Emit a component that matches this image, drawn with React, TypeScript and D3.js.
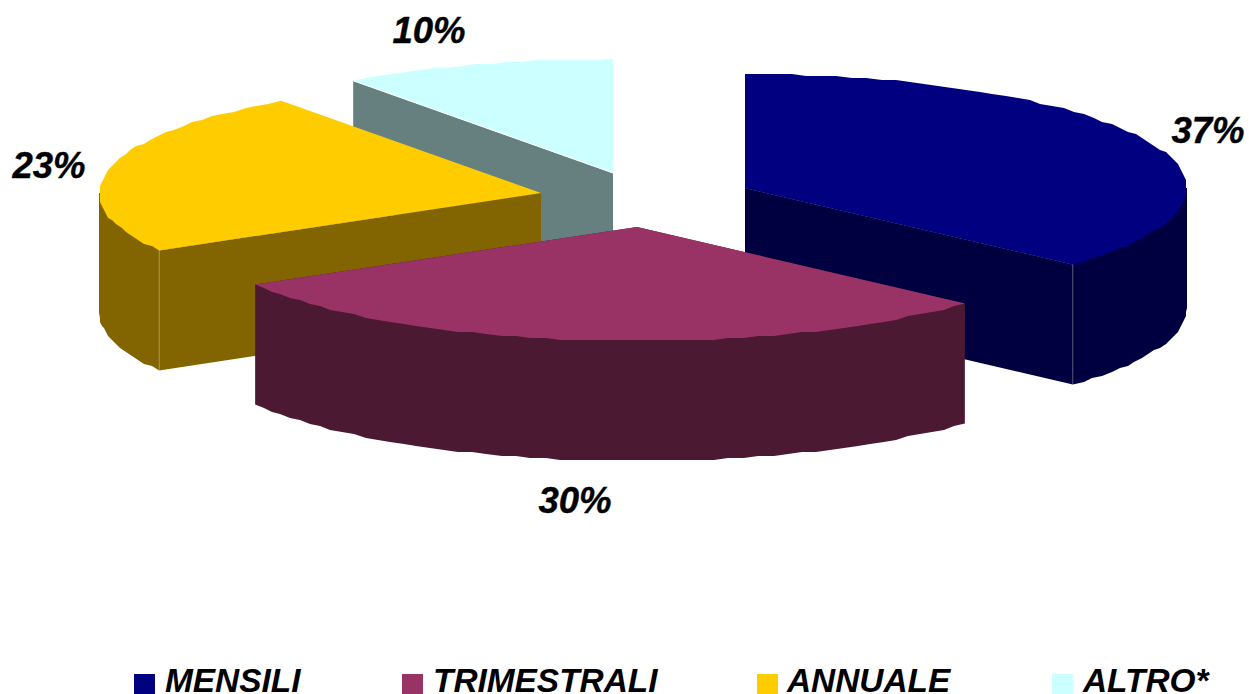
import React from "react";
import * as d3 from "d3";

const categories = ["MENSILI", "TRIMESTRALI", "ANNUALE", "ALTRO*"];
const shares = [36.7, 29.9, 23.4, 10];
const tickLabels = ["37%", "30%", "23%", "10%"];
const topColors = ["#000080", "#993366", "#ffcc00", "#ccffff"];
const sideColors = ["#000040", "#4c1933", "#826500", "#668080"];

const W = 1249, H = 694;
const RX = 442, RY = 114, DEPTH = 120;
const apexes: [number, number][] = [[745, 188], [637, 227], [541, 193], [613, 173]];
const labelPos: [number, number][] = [[1208, 143], [575, 513], [49, 178], [429, 43]];
const legendX = [134, 402, 757, 1052];
const legendTextX = [165, 433, 787, 1083];
const drawOrder = [3, 2, 0, 1];

const pieGen = d3.pie<number>().sort(null).value((d) => d);
const arcs = pieGen(shares);
const TAU = Math.PI * 2;

const snap = (v: number) => Math.round(v / 2) * 2;

function rimPoints(a0: number, a1: number, apex: [number, number], dy = 0): [number, number][] {
  const n = Math.max(2, Math.round((a1 - a0) / (TAU / 180)));
  const t = d3.scaleLinear().domain([0, n]).range([a0, a1]);
  return d3.range(n + 1).map((i) => {
    const a = t(i);
    const x = apex[0] + RX * Math.sin(a);
    const y = apex[1] - RY * Math.cos(a);
    const edge = i === 0 || i === n;
    return [edge ? x : snap(x), (edge ? y : snap(y)) + dy] as [number, number];
  });
}

const line = d3.line<[number, number]>();
const closed = (pts: [number, number][]) => (line(pts) ?? "") + "Z";

function Slice({ idx }: { idx: number }) {
  const { startAngle: s, endAngle: e } = arcs[idx];
  const apex = apexes[idx];
  const top = closed([apex, ...rimPoints(s, e, apex)]);
  const rim = (a: number): [number, number] => [apex[0] + RX * Math.sin(a), apex[1] - RY * Math.cos(a)];
  const radial = (a: number) => {
    const p = rim(a);
    return closed([apex, p, [p[0], p[1] + DEPTH], [apex[0], apex[1] + DEPTH]]);
  };
  const wallA = Math.max(s, Math.PI / 2);
  const wallB = Math.min(e, (3 * Math.PI) / 2);
  let wall: string | null = null;
  if (wallB > wallA) {
    // The wall runs under the top face, so the two never leave a gap along the rim.
    wall = closed([apex, rim(wallA), ...rimPoints(wallA, wallB, apex, DEPTH), rim(wallB)]);
  }
  const showStart = Math.sin(s) < -1e-6;
  const showEnd = Math.sin(e) > 1e-6;
  const side = sideColors[idx];
  const seamAngle = showEnd ? e : showStart ? s : null;
  const seam = seamAngle === null ? null : rim(seamAngle);
  return (
    <g>
      {showStart && <path d={radial(s)} fill={side} />}
      {showEnd && <path d={radial(e)} fill={side} />}
      {wall && <path d={wall} fill={side} />}
      {seam && wall && (
        <line x1={seam[0]} y1={seam[1]} x2={seam[0]} y2={seam[1] + DEPTH} stroke="#fff" strokeOpacity={0.25} strokeWidth={1} />
      )}
      <path d={top} fill={topColors[idx]} />
    </g>
  );
}

export default function App() {
  const cyan = apexes[3];
  const cs = arcs[3].startAngle;
  return (
    <svg
      width={W}
      height={H}
      viewBox={`0 0 ${W} ${H}`}
      style={{ position: "absolute", left: 0, top: 0, display: "block", background: "#fff" }}
      fontFamily="'Liberation Sans', Arial, sans-serif"
      fontWeight="bold"
      fontStyle="italic"
    >
      {drawOrder.map((i) => (
        <Slice key={i} idx={i} />
      ))}
      <line
        x1={cyan[0]}
        y1={cyan[1]}
        x2={cyan[0] + RX * Math.sin(cs)}
        y2={cyan[1] - RY * Math.cos(cs)}
        stroke="#fff"
        strokeWidth={1}
      />
      {tickLabels.map((t, i) => (
        <text key={t} x={labelPos[i][0]} y={labelPos[i][1]} fontSize={36.5} textAnchor="middle" fill="#000" stroke="#000" strokeWidth={0.4}>
          {t}
        </text>
      ))}
      {categories.map((c, i) => (
        <g key={c}>
          <rect x={legendX[i]} y={674} width={21} height={20} fill={topColors[i]} />
          <text x={legendTextX[i]} y={692} fontSize={33.4} fill="#000">
            {c}
          </text>
        </g>
      ))}
    </svg>
  );
}
